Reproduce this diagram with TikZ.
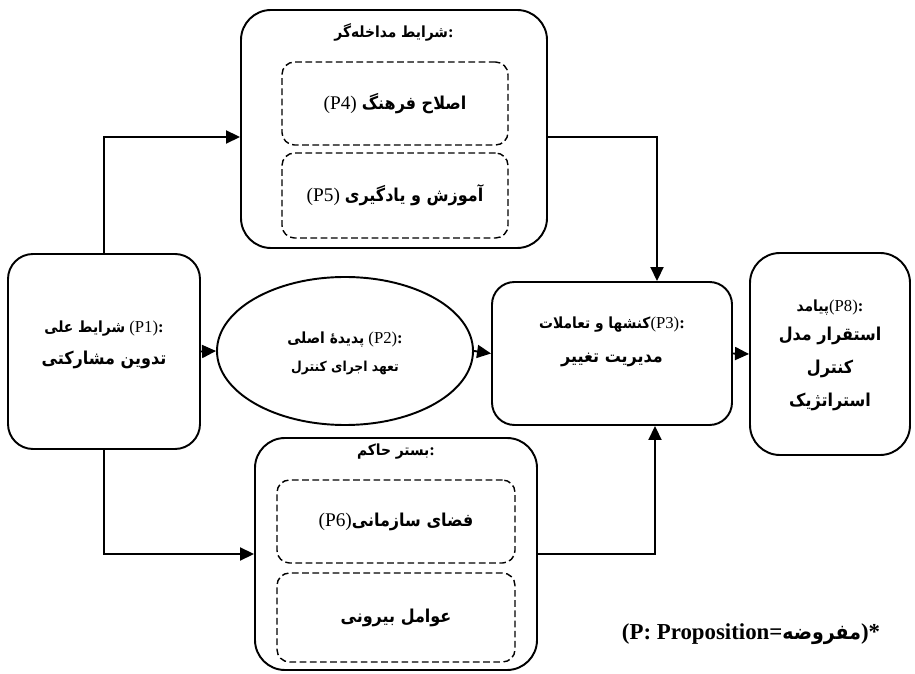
\documentclass[tikz,border=0pt]{standalone}
\usepackage{fontspec}
\setmainfont{Liberation Serif}
\newfontfamily\arabicfont[Script=Arabic,Scale=0.92]{DejaVu Sans Condensed}
\TeXXeTstate=1
\usetikzlibrary{shapes.geometric,arrows.meta}

\newcommand{\fa}[1]{{\arabicfont\bfseries\beginR #1\endR}}

\tikzset{
  bigbox/.style={draw, line width=1.1pt, rounded corners=0.6cm},
  innerbox/.style={draw, line width=0.8pt, rounded corners=0.25cm, dash pattern=on 3.8pt off 2pt},
  flow/.style={line width=1.1pt, -{Triangle[length=0.28cm,width=0.26cm]}},
  headfont/.style={font=\fontsize{9.5}{12}\selectfont},
  bodyfont/.style={font=\fontsize{11}{19}\selectfont},
}

\begin{document}
\begin{tikzpicture}
\useasboundingbox (0,0) rectangle (18.3,13.48);

% main boxes
\node[bigbox, minimum width=3.84cm, minimum height=3.9cm, rounded corners=0.5cm] (cause) at (2.08,6.45) {};
\node[bigbox, minimum width=6.12cm, minimum height=4.76cm] (inter) at (7.88,10.9) {};
\node[draw, ellipse, line width=1.1pt, minimum width=5.12cm, minimum height=2.96cm] (core) at (6.9,6.46) {};
\node[bigbox, minimum width=4.8cm, minimum height=2.86cm, rounded corners=0.45cm] (action) at (12.24,6.41) {};
\node[bigbox, minimum width=3.2cm, minimum height=4.04cm] (outcome) at (16.6,6.4) {};
\node[bigbox, minimum width=5.64cm, minimum height=4.64cm] (context) at (7.92,2.4) {};

% dashed inner boxes
\node[innerbox, minimum width=4.52cm, minimum height=1.66cm, bodyfont] (culture) at (7.9,11.41) {(P4) \fa{اصلاح فرهنگ}};
\node[innerbox, minimum width=4.52cm, minimum height=1.7cm, bodyfont] (learning) at (7.9,9.57) {(P5) \fa{آموزش و یادگیری}};
\node[innerbox, minimum width=4.76cm, minimum height=1.66cm, bodyfont] (climate) at (7.92,3.05) {(P6)\fa{فضای سازمانی}};
\node[innerbox, minimum width=4.76cm, minimum height=1.78cm, bodyfont] (external) at (7.92,1.13) {\fa{عوامل بیرونی}};

% texts
\node[headfont] (intertitle) at (7.88,12.84) {\fa{شرایط مداخله‌گر}\textbf{:}};
\node[headfont] (contexttitle) at (7.92,4.44) {\fa{بستر حاکم}\textbf{:}};
\node[headfont] (causetitle) at (2.08,6.9) {\fa{شرایط علی} (P1)\textbf{:}};
\node[bodyfont] (causetext) at (2.08,6.28) {\fa{تدوین مشارکتی}};
\node[headfont] (coretitle) at (6.9,6.68) {\fa{پدیدهٔ اصلی} (P2)\textbf{:}};
\node[font=\fontsize{8.5}{10}\selectfont] (coretext) at (6.9,6.12) {\fa{تعهد اجرای کنترل}};
\node[headfont] (actiontitle) at (12.24,6.98) {\fa{کنشها و تعاملات}(P3)\textbf{:}};
\node[bodyfont] (actiontext) at (12.24,6.28) {\fa{مدیریت تغییر}};
\node[headfont] (outcometitle) at (16.6,7.32) {\fa{پیامد}(P8)\textbf{:}};
\node[bodyfont, align=center] (outcometext) at (16.6,6.1) {\fa{استقرار مدل}\\ \fa{کنترل}\\ \fa{استراتژیک}};
\node[font=\fontsize{13}{15}\selectfont] (note) at (15.02,0.8) {\textbf{(P: Proposition=}\fa{مفروضه}\textbf{)*}};

% connectors
\draw[flow] (cause.north) |- ([yshift=-0.16cm]inter.west);
\draw[flow] (cause.south) |- (context.west);
\draw[flow] (cause.east) -- (core.west);
\draw[flow] (core.east) -- (action.west);
\draw[flow] ([yshift=-0.16cm]inter.east) -| ([xshift=0.9cm]action.north);
\draw[flow] (context.east) -| ([xshift=0.86cm]action.south);
\draw[flow] (action.east) -- (outcome.west);
\end{tikzpicture}
\end{document}
